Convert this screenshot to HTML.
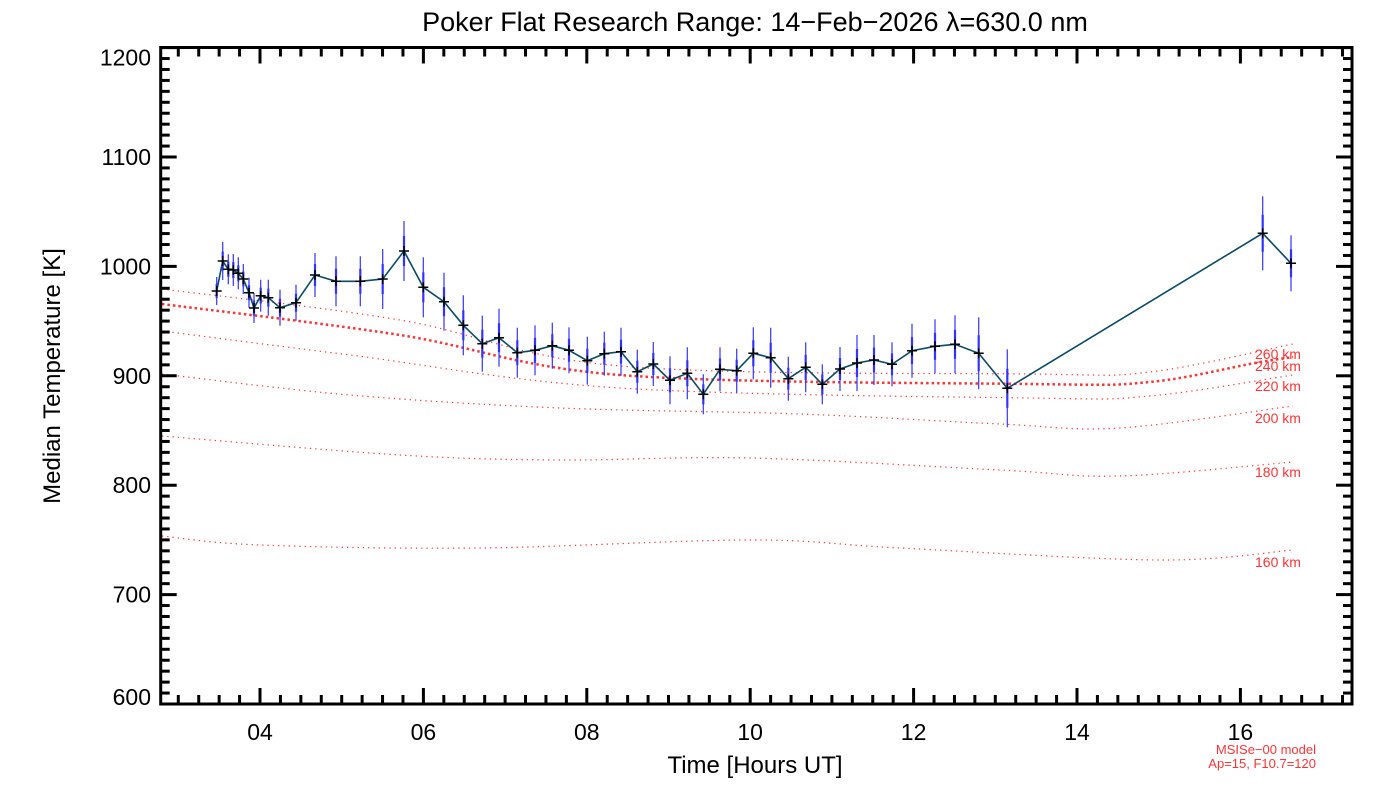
<!DOCTYPE html>
<html><head><meta charset="utf-8"><style>
html,body{margin:0;padding:0;background:#fff;}
svg{display:block;font-family:"Liberation Sans",sans-serif;}
</style></head><body>
<svg id="s" width="1400" height="800" viewBox="0 0 1400 800" xmlns="http://www.w3.org/2000/svg">
<rect width="1400" height="800" fill="#fff"/>
<text x="755" y="31" font-size="27" text-anchor="middle" fill="#000">Poker Flat Research Range: 14−Feb−2026 λ=630.0 nm</text>
<text x="755" y="773" font-size="24" text-anchor="middle" fill="#000">Time [Hours UT]</text>
<text transform="translate(60,376) rotate(-90)" font-size="24" text-anchor="middle" fill="#000">Median Temperature [K]</text>
<text x="1316" y="754" font-size="13" text-anchor="end" fill="#ff3333">MSISe−00 model</text>
<text x="1316" y="768" font-size="13" text-anchor="end" fill="#ff3333">Ap=15, F10.7=120</text>
<g id="g"></g>
</svg>
<script>
var g=document.getElementById('g'),h='';
var L=160.7,R=1352,T=47.5,B=704;
function yv(t){return B-(t-600)*1.094;}
function xv(hr){return 260+(hr-4)*81.7;}
function smooth(p){
 var d='M'+p[0][0]+' '+p[0][1];
 for(var i=0;i<p.length-1;i++){
  var p0=p[i-1]||p[i],p1=p[i],p2=p[i+1],p3=p[i+2]||p2;
  var c1x=p1[0]+(p2[0]-p0[0])/6,c1y=p1[1]+(p2[1]-p0[1])/6;
  var c2x=p2[0]-(p3[0]-p1[0])/6,c2y=p2[1]-(p3[1]-p1[1])/6;
  d+=' C'+c1x+' '+c1y+' '+c2x+' '+c2y+' '+p2[0]+' '+p2[1];
 }
 return d;
}
var curves=[
 ['160 km',1,[[162,536],[260,545],[480,548],[750,540],[900,548],[1160,560],[1293,550]],562],
 ['180 km',1,[[162,436],[400,455],[560,460],[750,458],[1000,470],[1120,476],[1293,462]],472],
 ['200 km',1,[[162,374],[350,395],[560,408],[800,414],[1000,424],[1120,428],[1293,406]],418],
 ['220 km',1,[[162,331],[350,355],[620,388],[1030,398],[1150,396],[1293,375]],386],
 ['240 km',2.5,[[162,304],[400,335],[620,375],[1030,384],[1150,382],[1255,363],[1293,357]],366],
 ['260 km',1,[[162,289],[400,320],[620,366],[1030,374],[1150,372],[1293,344]],354]
];
curves.forEach(function(c){
 h+='<path d="'+smooth(c[2])+'" fill="none" stroke="#ff3333" stroke-width="'+(c[1]>1?2.5:1.2)+'" stroke-dasharray="'+(c[1]>1?'2.5 3':'1.3 4')+'"/>';
 h+='<text x="1255" y="'+(c[3]+5)+'" font-size="14" fill="#ff3333">'+c[0]+'</text>';
});
var pts=[[216.7,291,14],[222.7,261,19],[228.3,269.3,15],[233.3,270,16],[238.3,273.3,16],[243.3,279,15],[249,292.7,15],[254,308,15],[260.7,295.7,16],[268.3,297.7,18],[280,307.7,18],[296,302.7,18],[315,275,22],[336,281.3,25],[360.3,281.3,25],[382.7,279,30],[404,251,30],[423.3,287.3,30],[444,301.7,29],[463.3,325.3,30],[482.3,343.7,28],[499,337.7,29],[517.3,352.7,25],[535,350.3,25],[552.3,345.7,23],[569,350.3,23],[587.3,360.7,24],[604.3,353.7,22],[621,351.7,24],[637.3,371.7,22],[653.3,364,22],[670,380.3,24],[687.3,373.3,26],[703.3,394.3,20],[720,369.3,22],[736.7,370.7,22],[753.3,353.3,26],[770.7,357.7,30],[788.3,378.7,22],[805.7,367.3,25],[822.3,384.3,20],[840,369,22],[857,363,28],[874,360,25],[892,364.3,22],[912,350.7,27],[935,346.3,27],[955,344.3,29],[978.7,353.3,36],[1007.3,388.3,39],[1262.7,233.3,37],[1291,263.3,28]];
pts.forEach(function(p){
 h+='<line x1="'+p[0]+'" y1="'+(p[1]-p[2])+'" x2="'+p[0]+'" y2="'+(p[1]+p[2])+'" stroke="#3333ff" stroke-width="1.2"/>';
 h+='<line x1="'+p[0]+'" y1="'+(p[1]-p[2]/2)+'" x2="'+p[0]+'" y2="'+(p[1]+p[2]/2)+'" stroke="#3333ff" stroke-width="2.2"/>';
});
h+='<polyline points="'+pts.map(function(p){return p[0]+','+p[1];}).join(' ')+'" fill="none" stroke="#0a4a6a" stroke-width="1.6"/>';
pts.forEach(function(p){
 h+='<path d="M'+(p[0]-5)+' '+p[1]+'H'+(p[0]+5)+'M'+p[0]+' '+(p[1]-5)+'V'+(p[1]+5)+'" stroke="#000" stroke-width="1.5"/>';
});
h+='<rect x="'+L+'" y="'+T+'" width="'+(R-L)+'" height="'+(B-T)+'" fill="none" stroke="#000" stroke-width="3"/>';
for(var t=600;t<=1200;t+=10){
 var y=yv(t),maj=(t%100==0),len=maj?16:9;
 h+='<line x1="'+L+'" y1="'+y+'" x2="'+(L+len)+'" y2="'+y+'" stroke="#000" stroke-width="3"/>';
 h+='<line x1="'+R+'" y1="'+y+'" x2="'+(R-len)+'" y2="'+y+'" stroke="#000" stroke-width="3"/>';
 if(maj){var ly=y+8; if(t==1200)ly=y+18; if(t==600)ly=y+1;
  h+='<text x="151" y="'+ly+'" font-size="23" text-anchor="end">'+t+'</text>';}
}
for(var q=12;q<=69;q++){
 var hr=q/4,x=xv(hr);
 if(x<L+1||x>R-1)continue;
 var maj=(q%8==0),len=maj?16:9;
 h+='<line x1="'+x+'" y1="'+B+'" x2="'+x+'" y2="'+(B-len)+'" stroke="#000" stroke-width="3"/>';
 h+='<line x1="'+x+'" y1="'+T+'" x2="'+x+'" y2="'+(T+len)+'" stroke="#000" stroke-width="3"/>';
 if(maj) h+='<text x="'+x+'" y="740" font-size="23" text-anchor="middle">'+(hr<10?'0':'')+hr+'</text>';
}
g.innerHTML=h;
</script>
</body></html>
